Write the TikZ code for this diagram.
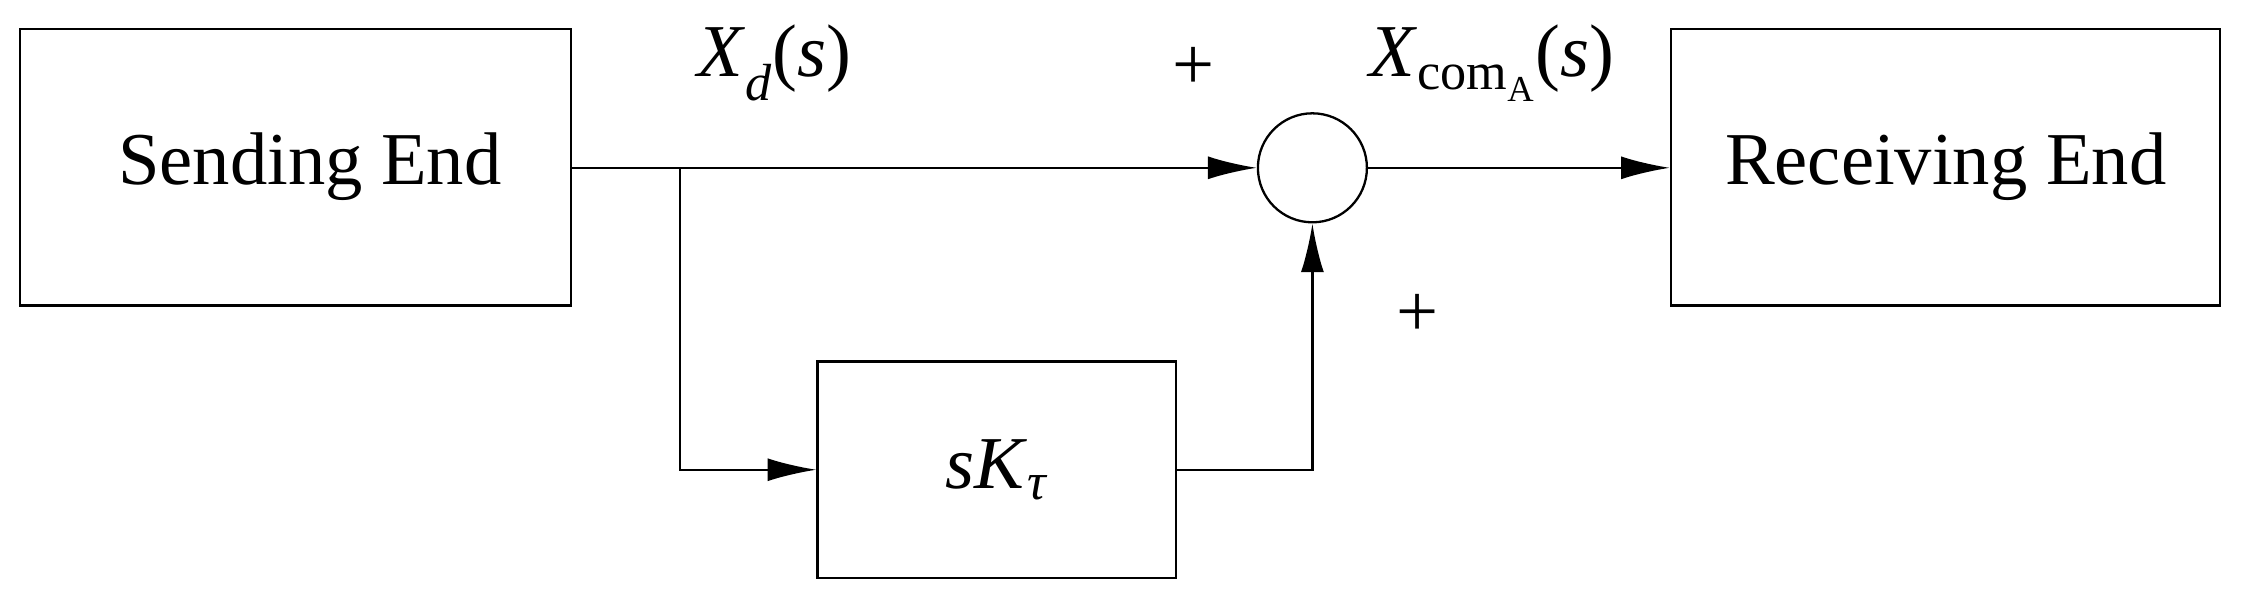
\documentclass[tikz,border=0pt]{standalone}
\usepackage{fontspec}
\setmainfont{Liberation Serif}
\usetikzlibrary{arrows.meta}
\newcommand{\iv}[1]{\textit{#1}}
\begin{document}
\begin{tikzpicture}[x=1pt,y=1pt,
  blk/.style={draw,line width=1.6pt,inner sep=0pt},
  ln/.style={line width=1.6pt},
  arr/.style={ln,-{Latex[length=34pt,width=16pt]}},
  lbl/.style={font=\fontsize{52}{60}\selectfont}]
\useasboundingbox (0,0) rectangle (1568,424);
\node[blk,minimum width=384pt,minimum height=193pt,lbl] (send) at (206,307.5) {\hspace*{20pt}Sending End};
\node[blk,minimum width=383pt,minimum height=193pt,lbl] (recv) at (1356.5,307.5) {Receiving End};
\node[blk,minimum width=250pt,minimum height=151pt,lbl] (k) at (695,96.5) {\iv{sK}\textsubscript{\iv{τ}}};
\node[draw,circle,line width=1.6pt,minimum size=76pt,inner sep=0pt] (sum) at (915,307) {};
\coordinate (br) at (474,307);
\draw[ln] (send.east |- br) -- (br);
\draw[arr] (br) -- (sum.west);
\draw[arr] (br) |- (k.west);
\draw[arr] (k.east) -| (sum.south);
\draw[arr] (sum.east) -- (recv.west |- sum);
\node[lbl] (xd) at (540,380) {\iv{X}\textsubscript{\iv{d}}(\iv{s})};
\node[lbl] (p1) at (832,376) {+};
\node[lbl] (xc) at (1040,380) {\iv{X}\textsubscript{com\textsubscript{A}}(\iv{s})};
\node[lbl] (p2) at (988,204) {+};
\end{tikzpicture}
\end{document}
